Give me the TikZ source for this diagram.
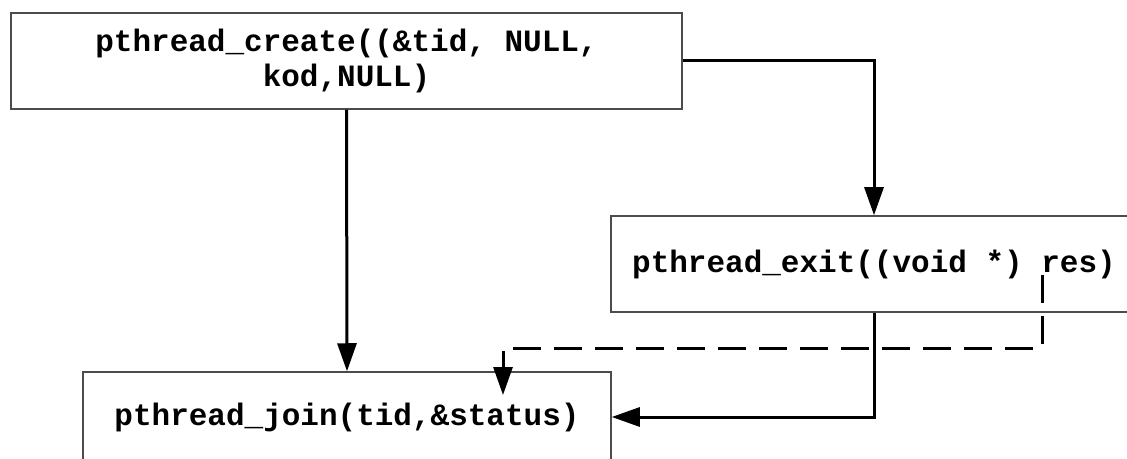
\documentclass[tikz,border=0pt]{standalone}
\usepackage{fontspec}
\newfontfamily\codefont{Liberation Mono}
\usetikzlibrary{arrows.meta,positioning,calc}

\tikzset{
  callbox/.style={draw=black!70,line width=0.75pt,rectangle,inner sep=0pt,align=center,
    font=\codefont\bfseries\fontsize{15.5}{17.5}\selectfont},
  flow/.style={-{Triangle[length=14pt,width=9.5pt]},line width=1.5pt,black},
  dashflow/.style={flow,dash pattern=on 14pt off 6.5pt}
}

\begin{document}
\begin{tikzpicture}[x=0.5pt,y=-0.5pt]
      \useasboundingbox (0,0) rectangle (1127,459);
      \clip (0,0) rectangle (1127,459);

      \node[callbox,minimum width=335.5pt,minimum height=48pt] (create) at (346.5,61)
        {pthread\_create((\&tid, NULL,\\ kod,NULL)};
      \node[callbox,minimum width=263pt,minimum height=48pt] (exit) at (874,264)
        {pthread\_exit((void *) res)};
      \node[callbox,minimum width=264pt,minimum height=45pt] (join) at (347,417)
        {pthread\_join(tid,\&status)};

      \coordinate (res) at (1042,275);
      \coordinate (status) at (503,395);

      \draw[flow] (create.south)--(join.north);
      \draw[flow] (create.east) -| (exit.north);
      \draw[flow] (exit.south) |- (join.east);
      \draw[dashflow] (res) -- ++(0,73) -| (status);

    \end{tikzpicture}
\end{document}
